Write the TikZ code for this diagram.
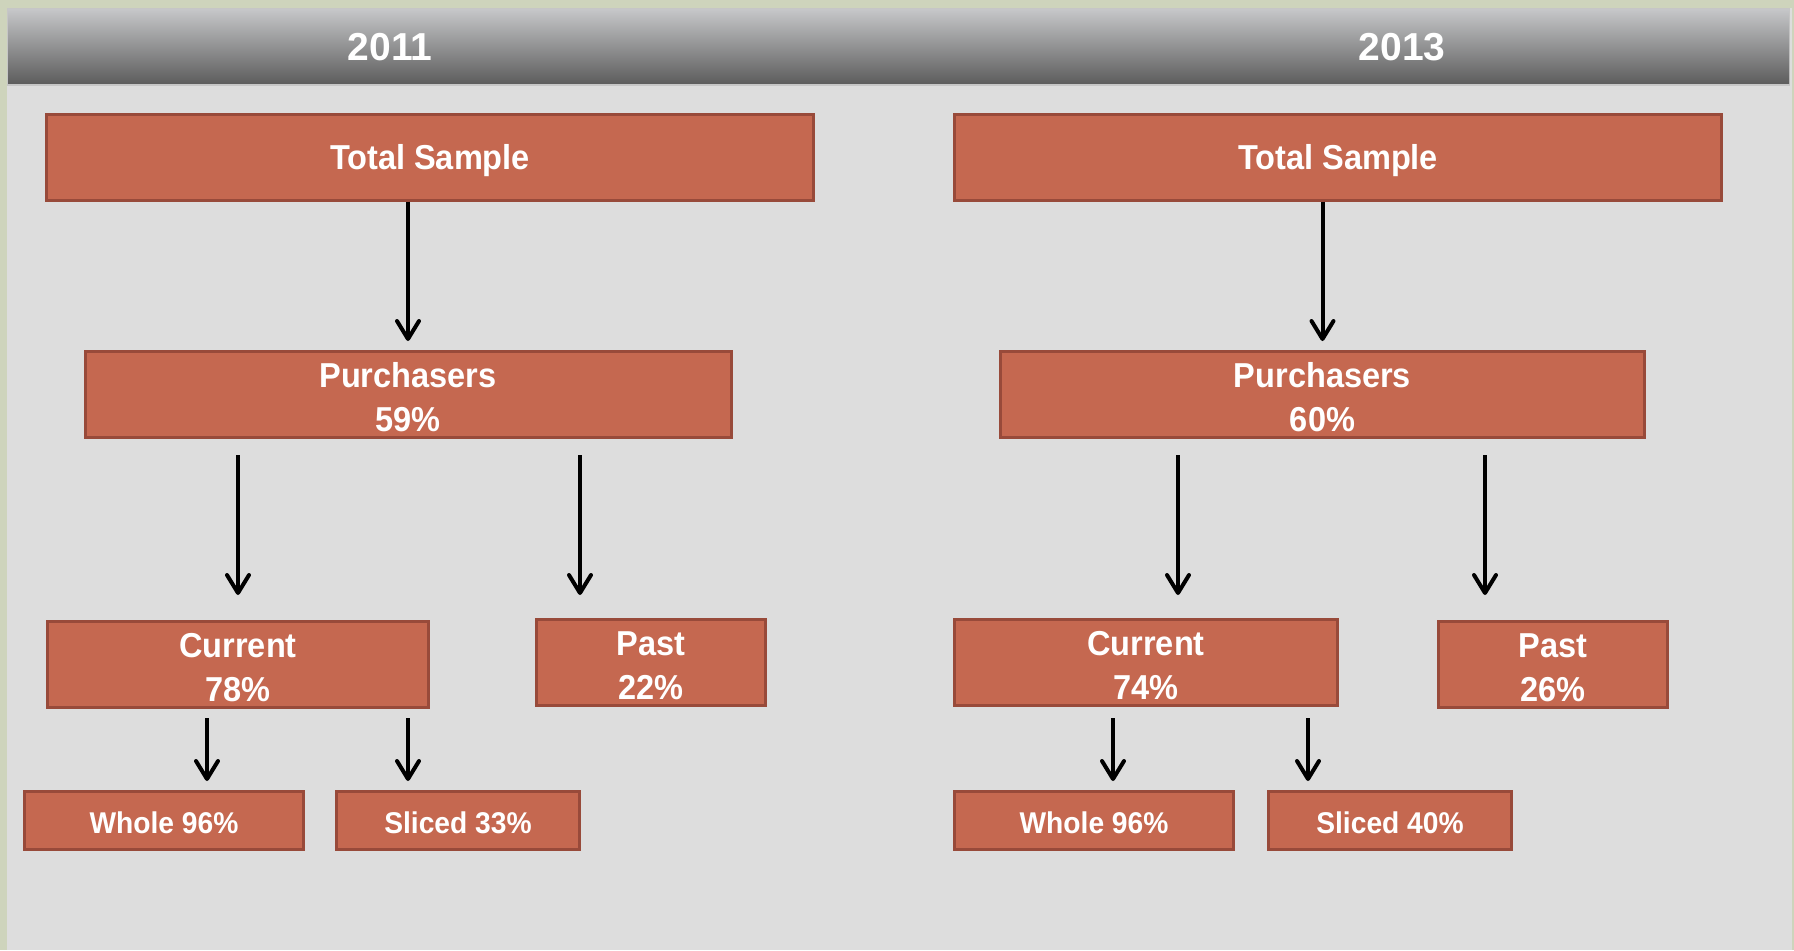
\documentclass[tikz,border=0pt]{standalone}
\usepackage{fontspec}
\setmainfont{Liberation Sans}[FakeStretch=0.94]
\newfontfamily\yearfont{Liberation Sans}
\usetikzlibrary{arrows.meta}

\definecolor{framegreen}{RGB}{206,212,188}
\definecolor{panelgray}{RGB}{221,221,221}
\definecolor{boxfill}{RGB}{197,104,80}
\definecolor{boxline}{RGB}{152,74,58}
\definecolor{hdtop}{RGB}{198,199,201}
\definecolor{hdmid}{RGB}{168,168,169}
\definecolor{hdbot}{RGB}{94,94,94}

% label set on its caps only (no descender), optionally lowered
\newcommand{\caplabel}[2][0pt]{\raisebox{-#1}[\height][0pt]{#2}}
% two-line label, first line given a little extra head room
\newcommand{\twolines}[2]{\rule{0pt}{15pt}#1\\#2}

\tikzset{
  box/.style={draw=boxline, fill=boxfill, line width=1.5pt, text=white,
    align=center, inner sep=0pt},
  bigbox/.style={box, minimum height=43pt,
    font=\bfseries\fontsize{17.3}{22.3}\selectfont},
  smallbox/.style={box, minimum height=29pt,
    font=\bfseries\fontsize{15}{18}\selectfont},
  arr/.style={line width=2pt,
    -{Straight Barb[length=9pt, width=11pt, line cap=round, line join=round]}},
  year/.style={text=white, font=\yearfont\bfseries\fontsize{19.5}{24}\selectfont}
}

\begin{document}
\begin{tikzpicture}[x=0.5pt, y=-0.5pt]
  % page, panel and header band
  \useasboundingbox (0,0) rectangle (1794,950);
  \fill[framegreen] (0,0) rectangle (1794,950);
  \fill[panelgray] (7,8) rectangle (1792,950);
  \fill[gray!45] (7,8) rectangle (1790,86);
  \shade[top color=hdtop, middle color=hdmid, bottom color=hdbot]
    (8,9) rectangle (1789,83);
  \node[year] (y11) at (390,47) {\caplabel{2011}};
  \node[year] (y13) at (1402,47) {\caplabel{2013}};

  % 2011 tree
  \node[bigbox, minimum width=383.5pt] (ts1) at (430,157) {\caplabel{Total Sample}};
  \node[bigbox, minimum width=323pt] (p1) at (408,394.5) {\twolines{Purchasers}{59\%}};
  \node[bigbox, minimum width=190.5pt] (c1) at (238,664.5) {\twolines{Current}{78\%}};
  \node[bigbox, minimum width=114.5pt] (pa1) at (651,662.5) {\twolines{Past}{22\%}};
  \node[smallbox, minimum width=139.5pt] (w1) at (164,820.5) {\caplabel[1pt]{Whole 96\%}};
  \node[smallbox, minimum width=121.5pt] (s1) at (458,820.5) {\caplabel[1pt]{Sliced 33\%}};

  % 2013 tree
  \node[bigbox, minimum width=383.5pt] (ts2) at (1338,157) {\caplabel{Total Sample}};
  \node[bigbox, minimum width=322pt] (p2) at (1322.5,394.5) {\twolines{Purchasers}{60\%}};
  \node[bigbox, minimum width=191.5pt] (c2) at (1146,662.5) {\twolines{Current}{74\%}};
  \node[bigbox, minimum width=114.5pt] (pa2) at (1553,664.5) {\twolines{Past}{26\%}};
  \node[smallbox, minimum width=139.5pt] (w2) at (1094,820.5) {\caplabel[1pt]{Whole 96\%}};
  \node[smallbox, minimum width=121.5pt] (s2) at (1390,820.5) {\caplabel[1pt]{Sliced 40\%}};

  % arrow columns
  \coordinate (xa) at (238,0);
  \coordinate (xb) at (580,0);
  \coordinate (xc) at (207,0);
  \coordinate (xd) at (408,0);
  \coordinate (xe) at (1178,0);
  \coordinate (xf) at (1485,0);
  \coordinate (xg) at (1113,0);
  \coordinate (xh) at (1308,0);

  % connectors
  \draw[arr] (ts1.south -| p1.north) -- ([yshift=4.5pt]p1.north);
  \draw[arr] (ts2.south -| p2.north) -- ([yshift=4.5pt]p2.north);

  \draw[arr] ([yshift=-8pt]p1.south -| xa) -- ([yshift=12.5pt]c1.north -| xa);
  \draw[arr] ([yshift=-8pt]p1.south -| xb) -- ([yshift=11.5pt]pa1.north -| xb);
  \draw[arr] ([yshift=-8pt]p2.south -| xe) -- ([yshift=11.5pt]c2.north -| xe);
  \draw[arr] ([yshift=-8pt]p2.south -| xf) -- ([yshift=12.5pt]pa2.north -| xf);

  \draw[arr] ([yshift=-4.5pt]c1.south -| xc) -- ([yshift=4.5pt]w1.north -| xc);
  \draw[arr] ([yshift=-4.5pt]c1.south -| xd) -- ([yshift=4.5pt]s1.north -| xd);
  \draw[arr] ([yshift=-5.5pt]c2.south -| xg) -- ([yshift=4.5pt]w2.north -| xg);
  \draw[arr] ([yshift=-5.5pt]c2.south -| xh) -- ([yshift=4.5pt]s2.north -| xh);
\end{tikzpicture}
\end{document}
